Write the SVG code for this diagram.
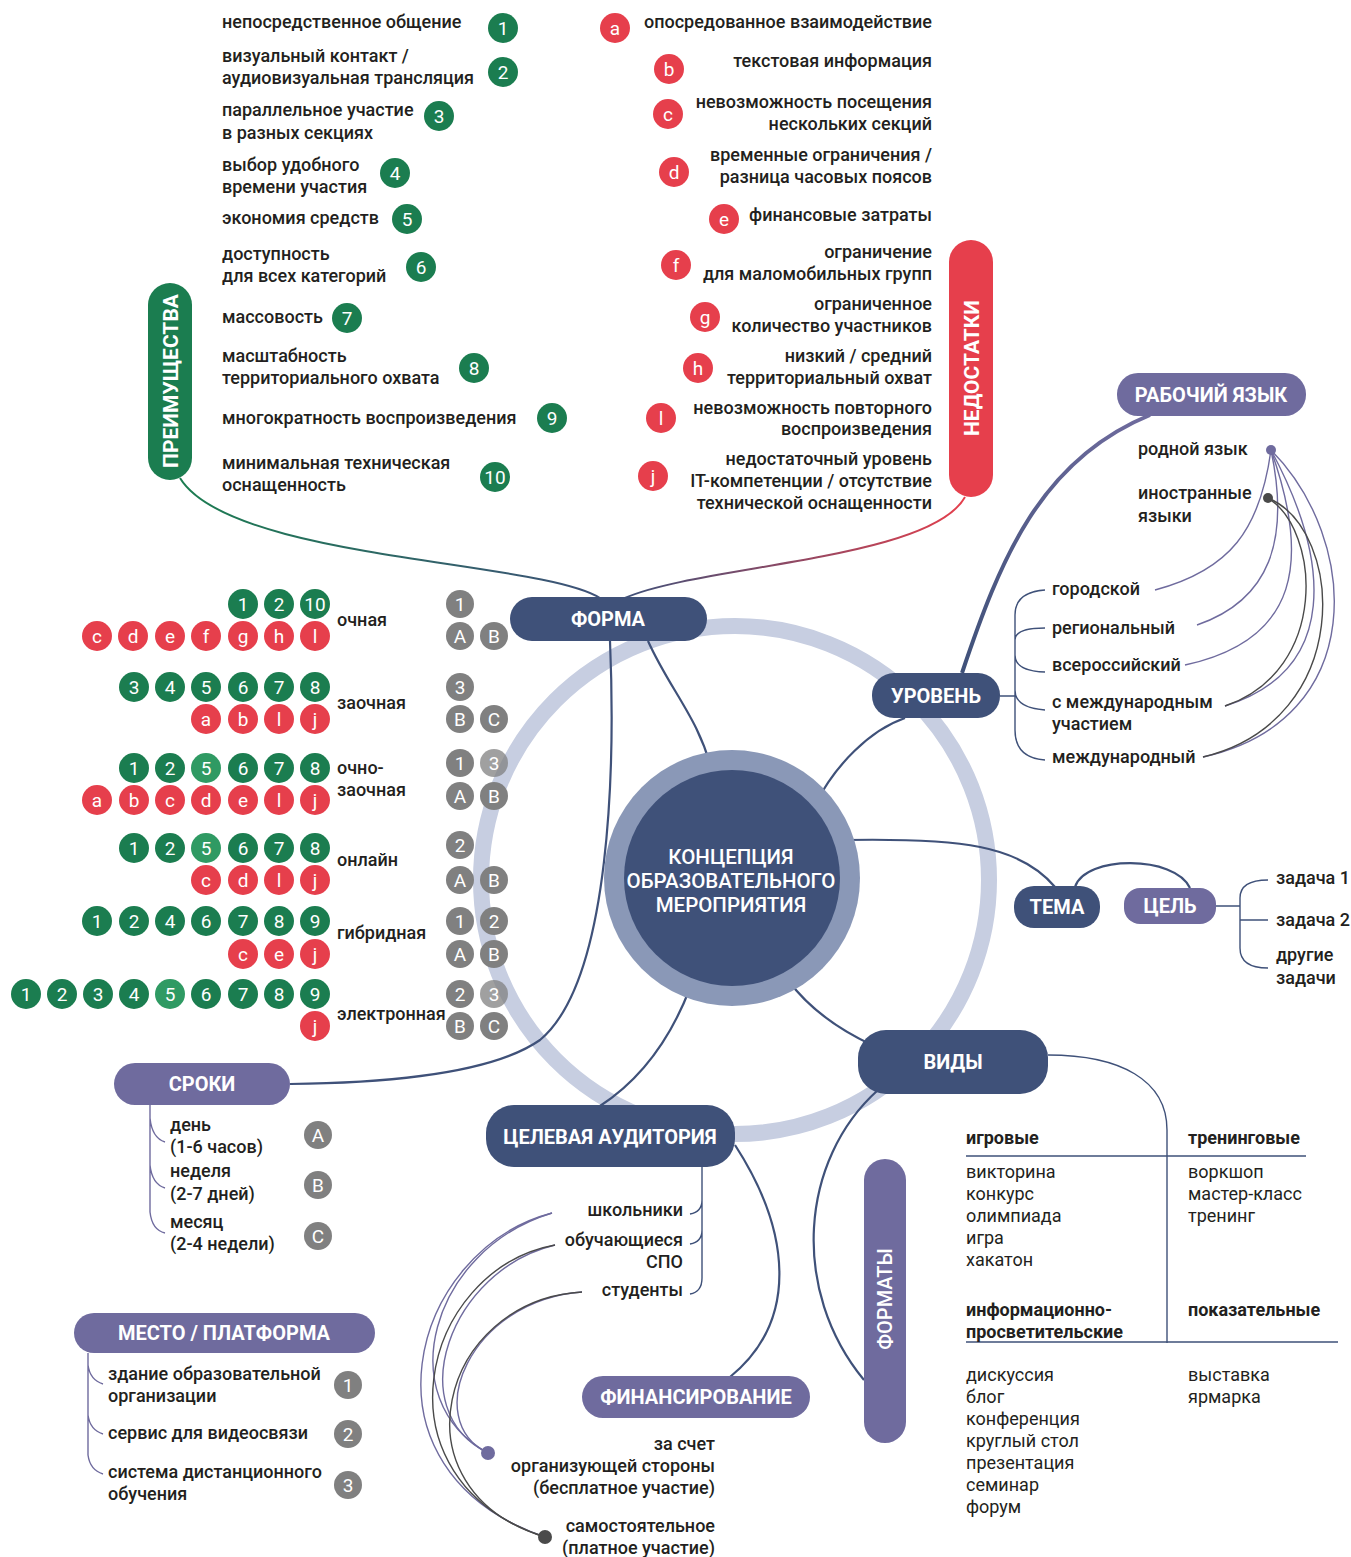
<svg xmlns="http://www.w3.org/2000/svg" width="1351" height="1557" viewBox="0 0 1351 1557">
<style>
text{font-family:Roboto,"Liberation Sans",sans-serif;fill:#231f20}
.t{font-size:18px;font-weight:500}
.n{font-size:18px;font-weight:400}
.b{font-size:18px;font-weight:700}
.e{text-anchor:end}
.h{font-size:20px;font-weight:700;fill:#fff;text-anchor:middle}
.cl{font-size:19px;font-weight:400;fill:#fff;text-anchor:middle}
.g{fill:#1b7d50}
.g2{fill:#2f9a63}
.rd{fill:#e63f4c}
.gr{fill:#808080}
.nv{fill:#3f5179}
.pu{fill:#6f6b9e}
.ln{fill:none;stroke:#3f5179;stroke-width:2.2}
.lp{fill:none;stroke:#6f6b9e;stroke-width:1.4}
.ld{fill:none;stroke:#4a4a4a;stroke-width:1.4}
.lb{fill:none;stroke:#3f5179;stroke-width:1.4}
</style>
<defs>
<linearGradient id="gGreen" gradientUnits="userSpaceOnUse" x1="180" y1="478" x2="600" y2="598"><stop offset="0" stop-color="#1b7d50"/><stop offset="1" stop-color="#3f5179"/></linearGradient>
<linearGradient id="gRed" gradientUnits="userSpaceOnUse" x1="965" y1="497" x2="625" y2="598"><stop offset="0" stop-color="#e63f4c"/><stop offset="1" stop-color="#3f5179"/></linearGradient>
<linearGradient id="gLang" gradientUnits="userSpaceOnUse" x1="962" y1="673" x2="1150" y2="415"><stop offset="0" stop-color="#3f5179"/><stop offset="1" stop-color="#6f6b9e"/></linearGradient>
</defs>

<circle id="ring" cx="735" cy="880" r="254" fill="none" stroke="#c7cee1" stroke-width="16"/>

<g id="connectors">
<path d="M180 478 C230 560 540 560 600 598" fill="none" stroke="url(#gGreen)" stroke-width="2"/>
<path d="M965 497 C930 560 700 565 625 598" fill="none" stroke="url(#gRed)" stroke-width="2"/>
<path class="ln" d="M648 641 C670 690 700 720 712 772"/>
<path class="ln" d="M610 641 C615 760 612 980 540 1040 C490 1075 380 1083 290 1084"/>
<path class="ln" d="M815 805 C835 765 870 730 905 718"/>
<path d="M962 673 C1000 560 1040 460 1150 415" fill="none" stroke="url(#gLang)" stroke-width="4"/>
<path class="ln" d="M845 840 C960 838 1020 845 1055 887"/>
<path class="ln" d="M1075 887 C1085 855 1175 855 1190 888"/>
<path class="ln" d="M788 980 C810 1010 840 1030 872 1045"/>
<path class="ln" d="M690 988 C670 1040 640 1080 600 1106"/>
<path class="ln" d="M878 1090 C800 1160 790 1290 864 1380"/>
<path class="lb" d="M1048 1055 C1120 1055 1167 1080 1167 1130 L1167 1343"/>
<path class="lb" d="M966 1156 L1306 1156 M966 1342 L1338 1342"/>
<path class="ln" d="M735 1145 C790 1230 800 1320 730 1377"/>
<path class="lb" d="M702 1167 L702 1278 Q702 1292 690 1294 M702 1200 Q702 1212 690 1214 M702 1230 Q702 1242 690 1244"/>
<path class="lb" d="M1000 696 L1015 696 M1015 615 L1015 730 M1015 615 Q1015 592 1045 590 M1015 640 Q1015 628 1045 628 M1015 655 Q1015 671 1045 672 M1015 690 Q1015 708 1045 710 M1015 730 Q1015 758 1045 760"/>
<path class="lb" d="M1216 906 L1240 906 M1240 898 L1240 948 M1240 898 Q1240 880 1268 880 M1240 920 L1268 920 M1240 948 Q1240 968 1268 968"/>
<path class="lp" d="M150 1105 L150 1212 M150 1118 Q152 1138 165 1142 M150 1165 Q152 1184 165 1188 M150 1212 Q152 1230 165 1233"/>
<path class="lp" d="M88 1353 L88 1455 M88 1365 Q90 1380 103 1384 M88 1415 Q90 1430 103 1434 M88 1455 Q90 1470 103 1474"/>
<path class="lp" d="M1271 450 C1260 530 1230 570 1155 590"/>
<path class="lp" d="M1271 450 C1290 540 1270 600 1197 625"/>
<path class="lp" d="M1271 450 C1310 560 1300 640 1185 665"/>
<path class="lp" d="M1271 450 C1330 560 1340 670 1225 706"/>
<path class="lp" d="M1271 450 C1360 540 1370 720 1203 757"/>
<path class="ld" d="M1268 498 C1320 530 1330 670 1225 706"/>
<path class="ld" d="M1268 498 C1345 530 1355 720 1203 757"/>
<circle cx="1271" cy="450" r="5" class="pu"/>
<circle cx="1268" cy="498" r="5" fill="#4a4a4a"/>
<path class="lp" d="M552 1213 C430 1250 390 1400 488 1453"/>
<path class="lp" d="M555 1245 C450 1270 400 1410 488 1453"/>
<path class="lp" d="M582 1292 C470 1300 420 1420 488 1453"/>
<path class="lp" d="M552 1213 C410 1250 350 1470 545 1537"/>
<path class="ld" d="M555 1245 C420 1270 370 1480 545 1537"/>
<path class="ld" d="M582 1292 C440 1300 390 1490 545 1537"/>
<circle cx="488" cy="1453" r="7" class="pu"/>
<circle cx="545" cy="1537" r="7" fill="#4a4a4a"/>
</g>

<g id="center">
<circle cx="732" cy="878" r="128" fill="#8a98b7"/>
<circle cx="732" cy="878" r="108" class="nv"/>
<text x="731" y="864" class="h" style="font-weight:500;font-size:20.5px">КОНЦЕПЦИЯ</text>
<text x="731" y="888" class="h" style="font-weight:500;font-size:20.5px">ОБРАЗОВАТЕЛЬНОГО</text>
<text x="731" y="912" class="h" style="font-weight:500;font-size:20.5px">МЕРОПРИЯТИЯ</text>
</g>

<g id="forma"><rect x="510" y="597" width="197" height="44" rx="22" class="nv"/><text x="608" y="626" class="h">ФОРМА</text></g>
<g id="uroven"><rect x="872" y="673" width="128" height="45" rx="22" class="nv"/><text x="936" y="703" class="h">УРОВЕНЬ</text></g>
<g id="tema"><rect x="1014" y="886" width="86" height="42" rx="20" class="nv"/><text x="1057" y="914" class="h">ТЕМА</text></g>
<g id="cel"><rect x="1124" y="888" width="92" height="36" rx="16" class="pu"/><text x="1170" y="913" class="h">ЦЕЛЬ</text></g>
<g id="vidy"><rect x="858" y="1030" width="190" height="64" rx="28" class="nv"/><text x="953" y="1069" class="h">ВИДЫ</text></g>
<g id="auditoria"><rect x="486" y="1105" width="249" height="62" rx="28" class="nv"/><text x="610" y="1144" class="h">ЦЕЛЕВАЯ АУДИТОРИЯ</text></g>
<g id="yazyk"><rect x="1117" y="373" width="189" height="43" rx="21" class="pu"/><text x="1211" y="402" class="h">РАБОЧИЙ ЯЗЫК</text></g>
<g id="sroki"><rect x="114" y="1063" width="176" height="42" rx="21" class="pu"/><text x="202" y="1091" class="h">СРОКИ</text></g>
<g id="mesto"><rect x="74" y="1313" width="301" height="40" rx="20" class="pu"/><text x="224" y="1340" class="h">МЕСТО / ПЛАТФОРМА</text></g>
<g id="finans"><rect x="582" y="1376" width="228" height="42" rx="21" class="pu"/><text x="696" y="1404" class="h">ФИНАНСИРОВАНИЕ</text></g>
<g id="formaty"><rect x="864" y="1159" width="42" height="284" rx="21" class="pu"/><text transform="translate(892 1299) rotate(-90)" x="0" y="0" class="h" style="font-weight:500;font-size:20px">ФОРМАТЫ</text></g>
<g id="preimushestva"><rect x="148" y="283" width="44" height="197" rx="22" class="g"/><text transform="translate(178 381) rotate(-90)" x="0" y="0" class="h" style="font-size:21px">ПРЕИМУЩЕСТВА</text></g>
<g id="nedostatki"><rect x="949" y="240" width="44" height="257" rx="22" class="rd"/><text transform="translate(979 368) rotate(-90)" x="0" y="0" class="h" style="font-size:21px">НЕДОСТАТКИ</text></g>

<g id="advantages">
<text x="222" y="28" class="t">непосредственное общение</text><circle cx="503" cy="28" r="15" class="g"/><text x="503" y="35" class="cl">1</text>
<text x="222" y="62" class="t">визуальный контакт /</text><text x="222" y="84" class="t">аудиовизуальная трансляция</text><circle cx="503" cy="72" r="15" class="g"/><text x="503" y="79" class="cl">2</text>
<text x="222" y="116" class="t">параллельное участие</text><text x="222" y="139" class="t">в разных секциях</text><circle cx="439" cy="116" r="15" class="g"/><text x="439" y="123" class="cl">3</text>
<text x="222" y="171" class="t">выбор удобного</text><text x="222" y="193" class="t">времени участия</text><circle cx="395" cy="173" r="15" class="g"/><text x="395" y="180" class="cl">4</text>
<text x="222" y="224" class="t">экономия средств</text><circle cx="407" cy="219" r="15" class="g"/><text x="407" y="226" class="cl">5</text>
<text x="222" y="260" class="t">доступность</text><text x="222" y="282" class="t">для всех категорий</text><circle cx="421" cy="267" r="15" class="g"/><text x="421" y="274" class="cl">6</text>
<text x="222" y="323" class="t">массовость</text><circle cx="347" cy="318" r="15" class="g"/><text x="347" y="325" class="cl">7</text>
<text x="222" y="362" class="t">масштабность</text><text x="222" y="384" class="t">территориального охвата</text><circle cx="474" cy="368" r="15" class="g"/><text x="474" y="375" class="cl">8</text>
<text x="222" y="424" class="t">многократность воспроизведения</text><circle cx="552" cy="418" r="15" class="g"/><text x="552" y="425" class="cl">9</text>
<text x="222" y="469" class="t">минимальная техническая</text><text x="222" y="491" class="t">оснащенность</text><circle cx="495" cy="477" r="15" class="g"/><text x="495" y="484" class="cl">10</text>
</g>

<g id="disadvantages">
<circle cx="615" cy="28" r="15" class="rd"/><text x="615" y="35" class="cl">a</text><text x="932" y="28" class="t e">опосредованное взаимодействие</text>
<circle cx="669" cy="69" r="15" class="rd"/><text x="669" y="76" class="cl">b</text><text x="932" y="67" class="t e">текстовая информация</text>
<circle cx="668" cy="114" r="15" class="rd"/><text x="668" y="121" class="cl">c</text><text x="932" y="108" class="t e">невозможность посещения</text><text x="932" y="130" class="t e">нескольких секций</text>
<circle cx="674" cy="172" r="15" class="rd"/><text x="674" y="179" class="cl">d</text><text x="932" y="161" class="t e">временные ограничения /</text><text x="932" y="183" class="t e">разница часовых поясов</text>
<circle cx="724" cy="219" r="15" class="rd"/><text x="724" y="226" class="cl">e</text><text x="932" y="221" class="t e">финансовые затраты</text>
<circle cx="676" cy="265" r="15" class="rd"/><text x="676" y="272" class="cl">f</text><text x="932" y="258" class="t e">ограничение</text><text x="932" y="280" class="t e">для маломобильных групп</text>
<circle cx="705" cy="317" r="15" class="rd"/><text x="705" y="324" class="cl">g</text><text x="932" y="310" class="t e">ограниченное</text><text x="932" y="332" class="t e">количество участников</text>
<circle cx="698" cy="368" r="15" class="rd"/><text x="698" y="375" class="cl">h</text><text x="932" y="362" class="t e">низкий / средний</text><text x="932" y="384" class="t e">территориальный охват</text>
<circle cx="661" cy="418" r="15" class="rd"/><text x="661" y="425" class="cl">l</text><text x="932" y="414" class="t e">невозможность повторного</text><text x="932" y="435" class="t e">воспроизведения</text>
<circle cx="653" cy="476" r="15" class="rd"/><text x="653" y="483" class="cl">j</text><text x="932" y="465" class="t e">недостаточный уровень</text><text x="932" y="487" class="t e">IT-компетенции / отсутствие</text><text x="932" y="509" class="t e">технической оснащенности</text>
</g>

<g id="form-types">
<circle cx="243" cy="604" r="15" class="g"/><text x="243" y="611" class="cl">1</text>
<circle cx="279" cy="604" r="15" class="g"/><text x="279" y="611" class="cl">2</text>
<circle cx="315" cy="604" r="15" class="g"/><text x="315" y="611" class="cl">10</text>
<circle cx="97" cy="636" r="15" class="rd"/><text x="97" y="643" class="cl">c</text>
<circle cx="133" cy="636" r="15" class="rd"/><text x="133" y="643" class="cl">d</text>
<circle cx="170" cy="636" r="15" class="rd"/><text x="170" y="643" class="cl">e</text>
<circle cx="206" cy="636" r="15" class="rd"/><text x="206" y="643" class="cl">f</text>
<circle cx="243" cy="636" r="15" class="rd"/><text x="243" y="643" class="cl">g</text>
<circle cx="279" cy="636" r="15" class="rd"/><text x="279" y="643" class="cl">h</text>
<circle cx="315" cy="636" r="15" class="rd"/><text x="315" y="643" class="cl">l</text>
<text x="337" y="626" class="t">очная</text>
<circle cx="134" cy="687" r="15" class="g"/><text x="134" y="694" class="cl">3</text>
<circle cx="170" cy="687" r="15" class="g"/><text x="170" y="694" class="cl">4</text>
<circle cx="206" cy="687" r="15" class="g"/><text x="206" y="694" class="cl">5</text>
<circle cx="243" cy="687" r="15" class="g"/><text x="243" y="694" class="cl">6</text>
<circle cx="279" cy="687" r="15" class="g"/><text x="279" y="694" class="cl">7</text>
<circle cx="315" cy="687" r="15" class="g"/><text x="315" y="694" class="cl">8</text>
<circle cx="206" cy="719" r="15" class="rd"/><text x="206" y="726" class="cl">a</text>
<circle cx="243" cy="719" r="15" class="rd"/><text x="243" y="726" class="cl">b</text>
<circle cx="279" cy="719" r="15" class="rd"/><text x="279" y="726" class="cl">l</text>
<circle cx="315" cy="719" r="15" class="rd"/><text x="315" y="726" class="cl">j</text>
<text x="337" y="709" class="t">заочная</text>
<circle cx="134" cy="768" r="15" class="g"/><text x="134" y="775" class="cl">1</text>
<circle cx="170" cy="768" r="15" class="g"/><text x="170" y="775" class="cl">2</text>
<circle cx="206" cy="768" r="15" class="g2"/><text x="206" y="775" class="cl">5</text>
<circle cx="243" cy="768" r="15" class="g"/><text x="243" y="775" class="cl">6</text>
<circle cx="279" cy="768" r="15" class="g"/><text x="279" y="775" class="cl">7</text>
<circle cx="315" cy="768" r="15" class="g"/><text x="315" y="775" class="cl">8</text>
<circle cx="97" cy="800" r="15" class="rd"/><text x="97" y="807" class="cl">a</text>
<circle cx="134" cy="800" r="15" class="rd"/><text x="134" y="807" class="cl">b</text>
<circle cx="170" cy="800" r="15" class="rd"/><text x="170" y="807" class="cl">c</text>
<circle cx="206" cy="800" r="15" class="rd"/><text x="206" y="807" class="cl">d</text>
<circle cx="243" cy="800" r="15" class="rd"/><text x="243" y="807" class="cl">e</text>
<circle cx="279" cy="800" r="15" class="rd"/><text x="279" y="807" class="cl">l</text>
<circle cx="315" cy="800" r="15" class="rd"/><text x="315" y="807" class="cl">j</text>
<text x="337" y="774" class="t">очно-</text><text x="337" y="796" class="t">заочная</text>
<circle cx="134" cy="848" r="15" class="g"/><text x="134" y="855" class="cl">1</text>
<circle cx="170" cy="848" r="15" class="g"/><text x="170" y="855" class="cl">2</text>
<circle cx="206" cy="848" r="15" class="g2"/><text x="206" y="855" class="cl">5</text>
<circle cx="243" cy="848" r="15" class="g"/><text x="243" y="855" class="cl">6</text>
<circle cx="279" cy="848" r="15" class="g"/><text x="279" y="855" class="cl">7</text>
<circle cx="315" cy="848" r="15" class="g"/><text x="315" y="855" class="cl">8</text>
<circle cx="206" cy="880" r="15" class="rd"/><text x="206" y="887" class="cl">c</text>
<circle cx="243" cy="880" r="15" class="rd"/><text x="243" y="887" class="cl">d</text>
<circle cx="279" cy="880" r="15" class="rd"/><text x="279" y="887" class="cl">l</text>
<circle cx="315" cy="880" r="15" class="rd"/><text x="315" y="887" class="cl">j</text>
<text x="337" y="866" class="t">онлайн</text>
<circle cx="97" cy="921" r="15" class="g"/><text x="97" y="928" class="cl">1</text>
<circle cx="134" cy="921" r="15" class="g"/><text x="134" y="928" class="cl">2</text>
<circle cx="170" cy="921" r="15" class="g"/><text x="170" y="928" class="cl">4</text>
<circle cx="206" cy="921" r="15" class="g"/><text x="206" y="928" class="cl">6</text>
<circle cx="243" cy="921" r="15" class="g"/><text x="243" y="928" class="cl">7</text>
<circle cx="279" cy="921" r="15" class="g"/><text x="279" y="928" class="cl">8</text>
<circle cx="315" cy="921" r="15" class="g"/><text x="315" y="928" class="cl">9</text>
<circle cx="243" cy="954" r="15" class="rd"/><text x="243" y="961" class="cl">c</text>
<circle cx="279" cy="954" r="15" class="rd"/><text x="279" y="961" class="cl">e</text>
<circle cx="315" cy="954" r="15" class="rd"/><text x="315" y="961" class="cl">j</text>
<text x="337" y="939" class="t">гибридная</text>
<circle cx="26" cy="994" r="15" class="g"/><text x="26" y="1001" class="cl">1</text>
<circle cx="62" cy="994" r="15" class="g"/><text x="62" y="1001" class="cl">2</text>
<circle cx="98" cy="994" r="15" class="g"/><text x="98" y="1001" class="cl">3</text>
<circle cx="134" cy="994" r="15" class="g"/><text x="134" y="1001" class="cl">4</text>
<circle cx="170" cy="994" r="15" class="g2"/><text x="170" y="1001" class="cl">5</text>
<circle cx="206" cy="994" r="15" class="g"/><text x="206" y="1001" class="cl">6</text>
<circle cx="243" cy="994" r="15" class="g"/><text x="243" y="1001" class="cl">7</text>
<circle cx="279" cy="994" r="15" class="g"/><text x="279" y="1001" class="cl">8</text>
<circle cx="315" cy="994" r="15" class="g"/><text x="315" y="1001" class="cl">9</text>
<circle cx="315" cy="1026" r="15" class="rd"/><text x="315" y="1033" class="cl">j</text>
<text x="337" y="1020" class="t">электронная</text>
</g>

<g id="form-grey">
<circle cx="460" cy="604" r="14" class="gr"/><text x="460" y="611" class="cl">1</text>
<circle cx="460" cy="636" r="14" class="gr"/><text x="460" y="643" class="cl">A</text>
<circle cx="494" cy="636" r="14" class="gr"/><text x="494" y="643" class="cl">B</text>
<circle cx="460" cy="687" r="14" class="gr"/><text x="460" y="694" class="cl">3</text>
<circle cx="460" cy="719" r="14" class="gr"/><text x="460" y="726" class="cl">B</text>
<circle cx="494" cy="719" r="14" class="gr"/><text x="494" y="726" class="cl">C</text>
<circle cx="460" cy="763" r="14" class="gr"/><text x="460" y="770" class="cl">1</text>
<circle cx="494" cy="763" r="14" class="gr" opacity="0.75"/><text x="494" y="770" class="cl">3</text>
<circle cx="460" cy="796" r="14" class="gr"/><text x="460" y="803" class="cl">A</text>
<circle cx="494" cy="796" r="14" class="gr"/><text x="494" y="803" class="cl">B</text>
<circle cx="460" cy="845" r="14" class="gr"/><text x="460" y="852" class="cl">2</text>
<circle cx="460" cy="880" r="14" class="gr"/><text x="460" y="887" class="cl">A</text>
<circle cx="494" cy="880" r="14" class="gr"/><text x="494" y="887" class="cl">B</text>
<circle cx="460" cy="921" r="14" class="gr"/><text x="460" y="928" class="cl">1</text>
<circle cx="494" cy="921" r="14" class="gr"/><text x="494" y="928" class="cl">2</text>
<circle cx="460" cy="954" r="14" class="gr"/><text x="460" y="961" class="cl">A</text>
<circle cx="494" cy="954" r="14" class="gr"/><text x="494" y="961" class="cl">B</text>
<circle cx="460" cy="994" r="14" class="gr"/><text x="460" y="1001" class="cl">2</text>
<circle cx="494" cy="994" r="14" class="gr" opacity="0.75"/><text x="494" y="1001" class="cl">3</text>
<circle cx="460" cy="1026" r="14" class="gr"/><text x="460" y="1033" class="cl">B</text>
<circle cx="494" cy="1026" r="14" class="gr"/><text x="494" y="1033" class="cl">C</text>
</g>

<g id="level-items">
<text x="1052" y="595" class="t">городской</text>
<text x="1052" y="634" class="t">региональный</text>
<text x="1052" y="671" class="t">всероссийский</text>
<text x="1052" y="708" class="t">с международным</text>
<text x="1052" y="730" class="t">участием</text>
<text x="1052" y="763" class="t">международный</text>
</g>
<g id="language-items">
<text x="1138" y="455" class="t">родной язык</text>
<text x="1138" y="499" class="t">иностранные</text>
<text x="1138" y="522" class="t">языки</text>
</g>
<g id="goal-items">
<text x="1276" y="884" class="t">задача 1</text>
<text x="1276" y="926" class="t">задача 2</text>
<text x="1276" y="961" class="t">другие</text>
<text x="1276" y="984" class="t">задачи</text>
</g>
<g id="sroki-items">
<text x="170" y="1131" class="t">день</text><text x="170" y="1153" class="t">(1-6 часов)</text>
<circle cx="318" cy="1135" r="14" class="gr"/><text x="318" y="1142" class="cl">A</text>
<text x="170" y="1177" class="t">неделя</text><text x="170" y="1200" class="t">(2-7 дней)</text>
<circle cx="318" cy="1185" r="14" class="gr"/><text x="318" y="1192" class="cl">B</text>
<text x="170" y="1228" class="t">месяц</text><text x="170" y="1250" class="t">(2-4 недели)</text>
<circle cx="318" cy="1236" r="14" class="gr"/><text x="318" y="1243" class="cl">C</text>
</g>
<g id="mesto-items">
<text x="108" y="1380" class="t">здание образовательной</text><text x="108" y="1402" class="t">организации</text>
<circle cx="348" cy="1385" r="14" class="gr"/><text x="348" y="1392" class="cl">1</text>
<text x="108" y="1439" class="t">сервис для видеосвязи</text>
<circle cx="348" cy="1434" r="14" class="gr"/><text x="348" y="1441" class="cl">2</text>
<text x="108" y="1478" class="t">система дистанционного</text><text x="108" y="1500" class="t">обучения</text>
<circle cx="348" cy="1485" r="14" class="gr"/><text x="348" y="1492" class="cl">3</text>
</g>
<g id="audience-items">
<text x="683" y="1216" class="t e">школьники</text>
<text x="683" y="1246" class="t e">обучающиеся</text>
<text x="683" y="1268" class="t e">СПО</text>
<text x="683" y="1296" class="t e">студенты</text>
</g>
<g id="finans-items">
<text x="715" y="1450" class="t e">за счет</text>
<text x="715" y="1472" class="t e">организующей стороны</text>
<text x="715" y="1494" class="t e">(бесплатное участие)</text>
<text x="715" y="1532" class="t e">самостоятельное</text>
<text x="715" y="1554" class="t e">(платное участие)</text>
</g>
<g id="vidy-table">
<text x="966" y="1144" class="b">игровые</text>
<text x="1188" y="1144" class="b">тренинговые</text>
<text x="966" y="1178" class="n">викторина</text>
<text x="966" y="1200" class="n">конкурс</text>
<text x="966" y="1222" class="n">олимпиада</text>
<text x="966" y="1244" class="n">игра</text>
<text x="966" y="1266" class="n">хакатон</text>
<text x="1188" y="1178" class="n">воркшоп</text>
<text x="1188" y="1200" class="n">мастер-класс</text>
<text x="1188" y="1222" class="n">тренинг</text>
<text x="966" y="1316" class="b">информационно-</text>
<text x="966" y="1338" class="b">просветительские</text>
<text x="1188" y="1316" class="b">показательные</text>
<text x="966" y="1381" class="n">дискуссия</text>
<text x="966" y="1403" class="n">блог</text>
<text x="966" y="1425" class="n">конференция</text>
<text x="966" y="1447" class="n">круглый стол</text>
<text x="966" y="1469" class="n">презентация</text>
<text x="966" y="1491" class="n">семинар</text>
<text x="966" y="1513" class="n">форум</text>
<text x="1188" y="1381" class="n">выставка</text>
<text x="1188" y="1403" class="n">ярмарка</text>
</g>
</svg>
